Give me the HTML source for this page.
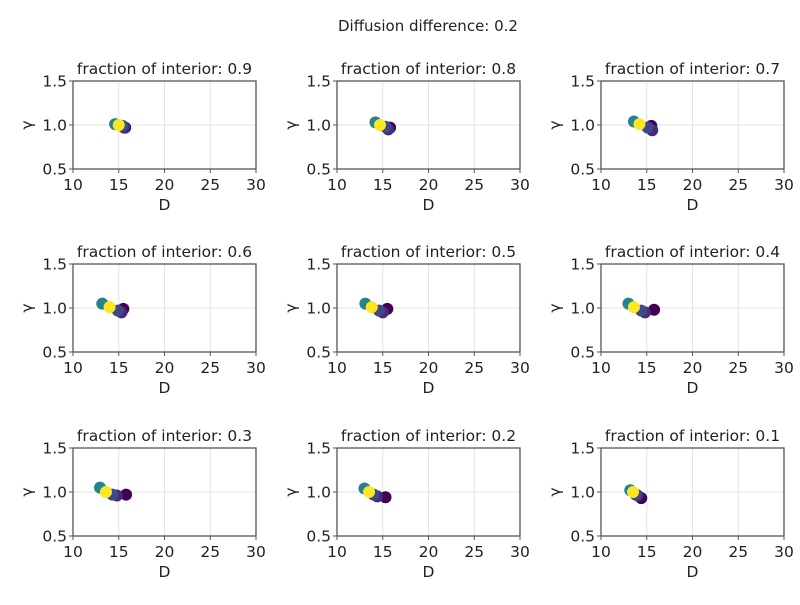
<!DOCTYPE html>
<html><head><meta charset="utf-8">
<style>
body{margin:0;background:#fff;}
svg text{font-family:"DejaVu Sans","Liberation Sans",sans-serif;fill:#222;}
</style></head>
<body>
<svg id="chart" width="800" height="600" xmlns="http://www.w3.org/2000/svg">
<text x="428" y="31" font-size="15" text-anchor="middle">Diffusion difference: 0.2</text>
</svg>
<script>
const fractions=["0.9","0.8","0.7","0.6","0.5","0.4","0.3","0.2","0.1"];
const xTicks=[10,15,20,25,30];
const yTicks=[0.5,1.0,1.5];
const yTickLabels=["0.5","1.0","1.5"];
const dVals=[
 [15.7,15.6,15.4,14.6,15.0],
 [15.8,15.6,15.3,14.2,14.7],
 [15.5,15.6,15.1,13.6,14.2],
 [15.5,15.3,14.9,13.2,14.0],
 [15.5,15.0,14.6,13.1,13.8],
 [15.8,14.8,14.4,13.0,13.6],
 [15.8,14.8,14.3,12.95,13.6],
 [15.3,14.4,14.0,13.0,13.5],
 [14.4,14.0,13.8,13.2,13.5]
];
const gVals=[
 [0.97,0.97,0.99,1.01,1.0],
 [0.97,0.95,0.98,1.03,1.0],
 [0.99,0.94,0.97,1.04,1.01],
 [0.99,0.95,0.97,1.05,1.01],
 [0.99,0.95,0.97,1.05,1.01],
 [0.98,0.95,0.97,1.05,1.01],
 [0.97,0.96,0.97,1.05,1.0],
 [0.94,0.95,0.97,1.04,1.0],
 [0.93,0.96,0.97,1.02,1.0]
];
const colorVals=[0.0,0.15,0.25,0.45,1.0];
const viridis=["#440154","#482878","#3e4989","#31688e","#26828e","#1f9e89","#35b779","#6ece58","#b5de2b","#fde725"];
function vcol(t){return viridis[Math.round(t*9)];}
const NS="http://www.w3.org/2000/svg";
const svg=document.getElementById('chart');
function mk(tag,attrs,parent){const e=document.createElementNS(NS,tag);for(const k in attrs)e.setAttribute(k,attrs[k]);(parent||svg).appendChild(e);return e;}
const colX=[73,337,601],rowY=[81,264,448],W=183,H=88;
fractions.forEach((f,i)=>{
 const x0=colX[i%3],y0=rowY[Math.floor(i/3)];
 const sx=d=>x0+(d-10)/20*W, sy=g=>y0+H-(g-0.5)/1*H;
 const g=mk('g',{});
 
 
 xTicks.forEach(t=>{const l=mk('line',{x1:sx(t),x2:sx(t),y1:y0,y2:y0+H,stroke:'#e3e3e3','stroke-width':1},g);
  });
 yTicks.forEach(t=>{const l=mk('line',{x1:x0,x2:x0+W,y1:sy(t),y2:sy(t),stroke:'#e3e3e3','stroke-width':1},g);
  });
 const r=mk('rect',{x:x0,y:y0,width:W,height:H,fill:'none',stroke:'#555','stroke-width':1.3},g);
 
 xTicks.forEach(t=>{mk('line',{x1:sx(t),x2:sx(t),y1:y0+H,y2:y0+H+4,stroke:'#555'},g);
  const tx=mk('text',{x:sx(t),y:y0+H+21,'font-size':15.5,'text-anchor':'middle'},g);tx.textContent=t;
  });
 yTicks.forEach((t,j)=>{mk('line',{x1:x0-4,x2:x0,y1:sy(t),y2:sy(t),stroke:'#555'},g);
  const tx=mk('text',{x:x0-6,y:sy(t)+5.5,'font-size':15.5,'text-anchor':'end'},g);tx.textContent=yTickLabels[j];
  });
 const xl=mk('text',{x:x0+W/2,y:y0+H+41,'font-size':15.5,'text-anchor':'middle'},g);xl.textContent='D';
 
 const yl=mk('text',{x:0,y:0,'font-size':15.5,'text-anchor':'middle',transform:`translate(${x0-41},${y0+H/2}) rotate(-90)`},g);yl.textContent='γ';
 
 const tt=mk('text',{x:x0+W/2,y:y0-7,'font-size':15.5,'text-anchor':'middle'},g);tt.textContent='fraction of interior: '+f;
 
 dVals[i].forEach((d,k)=>{const c=mk('circle',{cx:sx(d),cy:sy(gVals[i][k]),r:6,fill:vcol(colorVals[k])},g);
  });
});
</script>
</body></html>
